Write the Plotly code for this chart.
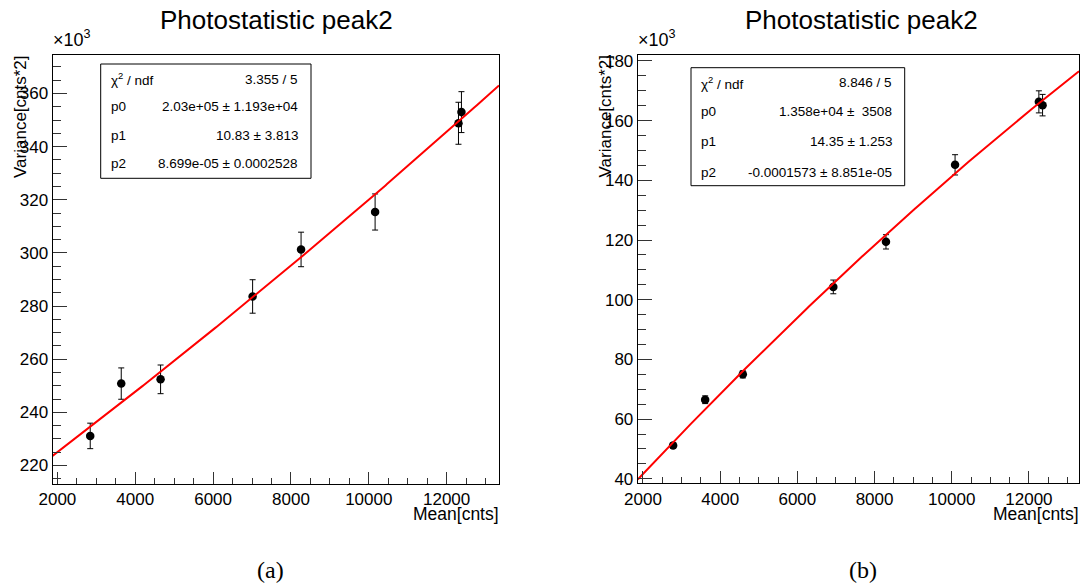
import numpy as np
import plotly.graph_objects as go

# ---------------- data ----------------
# Panel (a)
a_mean = [2843, 3640, 4651, 7015, 8260, 10162, 12304, 12380]
a_var_k = [231.1, 250.8, 252.4, 283.6, 301.3, 315.4, 348.8, 353.0]   # x10^3
a_err_k = [4.8, 5.9, 5.4, 6.3, 6.5, 6.8, 7.9, 7.7]
a_fit = {"p0": 2.03e05, "p1": 10.83, "p2": 8.699e-05}
a_stats = [("χ<sup>2</sup> / ndf", "3.355 / 5"),
           ("p0", "2.03e+05 ± 1.193e+04"),
           ("p1", "10.83 ± 3.813"),
           ("p2", "8.699e-05 ± 0.0002528")]

# Panel (b)
b_mean = [2781, 3611, 4587, 6931, 8296, 10086, 12257, 12353]
b_var_k = [51.2, 66.5, 75.0, 104.3, 119.4, 145.2, 166.3, 165.2]
b_err_k = [0.9, 1.3, 1.2, 2.3, 2.4, 3.4, 3.7, 3.6]
b_fit = {"p0": 1.358e04, "p1": 14.35, "p2": -0.0001573}
b_stats = [("χ<sup>2</sup> / ndf", "8.846 / 5"),
           ("p0", "1.358e+04 ±  3508"),
           ("p1", "14.35 ± 1.253"),
           ("p2", "-0.0001573 ± 8.851e-05")]

title_text = "Photostatistic peak2"
x_title = "Mean[cnts]"
y_title = "Variance[cnts*2]"
captions = ["(a)", "(b)"]

# ---------------- layout helpers ----------------
W, H = 1088, 585
def px(x): return x / W
def py(y): return 1 - y / H

FONT = "Liberation Sans, Arial, sans-serif"

panels = [
    dict(mean=a_mean, var=a_var_k, err=a_err_k, fit=a_fit, stats=a_stats,
         xr=[1874, 13345], yr=[213.0, 374.5],
         frame=(52.5, 499.0, 55.0, 484.0),
         box=(100.7, 311.0, 64.0, 178.3), rows=[79.3, 106.7, 135.3, 163.3],
         ytitle_x=20.5, cap_x=270, title_x=276),
    dict(mean=b_mean, var=b_var_k, err=b_err_k, fit=b_fit, stats=b_stats,
         xr=[1863, 13297], yr=[38.5, 182.0],
         frame=(637.7, 1079.0, 55.0, 483.3),
         box=(691.0, 904.7, 67.7, 185.7), rows=[82.7, 112.0, 141.3, 172.0],
         ytitle_x=605, cap_x=863, title_x=861),
]

fig = go.Figure()
annotations = []
shapes = []

for i, p in enumerate(panels):
    xa = "x" if i == 0 else "x2"
    ya = "y" if i == 0 else "y2"
    # data points with error bars
    fig.add_trace(go.Scatter(
        x=p["mean"], y=p["var"], mode="markers", xaxis=xa, yaxis=ya,
        marker=dict(color="black", size=8.5, symbol="circle"),
        error_y=dict(type="data", array=p["err"], visible=True,
                     color="black", thickness=1, width=3),
        showlegend=False, hoverinfo="x+y"))
    # fit curve from displayed parameters
    xf = np.linspace(p["xr"][0], p["xr"][1], 300)
    f = p["fit"]
    yf = (f["p0"] + f["p1"] * xf + f["p2"] * xf ** 2) / 1e3
    fig.add_trace(go.Scatter(
        x=xf, y=yf, mode="lines", xaxis=xa, yaxis=ya,
        line=dict(color="#ff0000", width=2), showlegend=False,
        hoverinfo="skip"))

    l, r, t, b = p["frame"]
    common = dict(showline=True, linecolor="black", linewidth=1, mirror=True,
                  ticks="inside", tickcolor="#333", tickwidth=1,
                  showgrid=False, zeroline=False, tickformat="d",
                  automargin=False,
                  tickfont=dict(family=FONT, size=17, color="black"))
    xaxis = dict(common, domain=[px(l), px(r)], range=p["xr"], dtick=2000,
                 tick0=0, ticklen=12,
                 minor=dict(dtick=500, ticklen=6, ticks="inside",
                            tickcolor="#333", showgrid=False),
                 anchor=ya)
    yaxis = dict(common, domain=[py(b), py(t)], range=p["yr"], dtick=20,
                 tick0=0, ticklen=14,
                 minor=dict(dtick=5, ticklen=8, ticks="inside",
                            tickcolor="#333", showgrid=False),
                 anchor=xa)
    if i == 0:
        fig.update_layout(xaxis=xaxis, yaxis=yaxis)
    else:
        fig.update_layout(xaxis2=xaxis, yaxis2=yaxis)

    # title
    annotations.append(dict(text=title_text, x=px(p["title_x"]), y=py(20),
                            xref="paper", yref="paper", showarrow=False,
                            xanchor="center", yanchor="middle",
                            font=dict(family=FONT, size=26, color="black")))
    # x10^3
    annotations.append(dict(text="×10<sup>3</sup>", x=px(l - 2), y=py(52),
                            xref="paper", yref="paper", showarrow=False,
                            xanchor="left", yanchor="bottom",
                            font=dict(family=FONT, size=18, color="black")))
    # axis titles
    annotations.append(dict(text=x_title, x=px(r + 2), y=py(514),
                            xref="paper", yref="paper", showarrow=False,
                            xanchor="right", yanchor="middle",
                            font=dict(family=FONT, size=17.5, color="black")))
    annotations.append(dict(text=y_title, x=px(p["ytitle_x"]), y=py(t - 2),
                            xref="paper", yref="paper", showarrow=False,
                            textangle=-90, xanchor="center", yanchor="top",
                            font=dict(family=FONT, size=17, color="black")))
    # caption
    annotations.append(dict(text=captions[i], x=px(p["cap_x"]), y=py(570),
                            xref="paper", yref="paper", showarrow=False,
                            xanchor="center", yanchor="middle",
                            font=dict(family="Liberation Serif, serif", size=24,
                                      color="black")))
    # stats box
    bl, br, bt, bb = p["box"]
    shapes.append(dict(type="rect", xref="paper", yref="paper",
                       x0=px(bl), x1=px(br), y0=py(bb), y1=py(bt),
                       line=dict(color="black", width=1), fillcolor="white",
                       layer="above"))
    for (lab, val), ry in zip(p["stats"], p["rows"]):
        annotations.append(dict(text=lab, x=px(bl + 8), y=py(ry),
                                xref="paper", yref="paper", showarrow=False,
                                xanchor="left", yanchor="middle",
                                font=dict(family=FONT, size=13.5, color="black")))
        annotations.append(dict(text=val, x=px(br - 11), y=py(ry),
                                xref="paper", yref="paper", showarrow=False,
                                xanchor="right", yanchor="middle",
                                font=dict(family=FONT, size=13.5, color="black")))

fig.update_layout(width=W, height=H, margin=dict(l=0, r=0, t=0, b=0),
                  paper_bgcolor="white", plot_bgcolor="white",
                  annotations=annotations, shapes=shapes, showlegend=False)

fig.write_html("out.html")
